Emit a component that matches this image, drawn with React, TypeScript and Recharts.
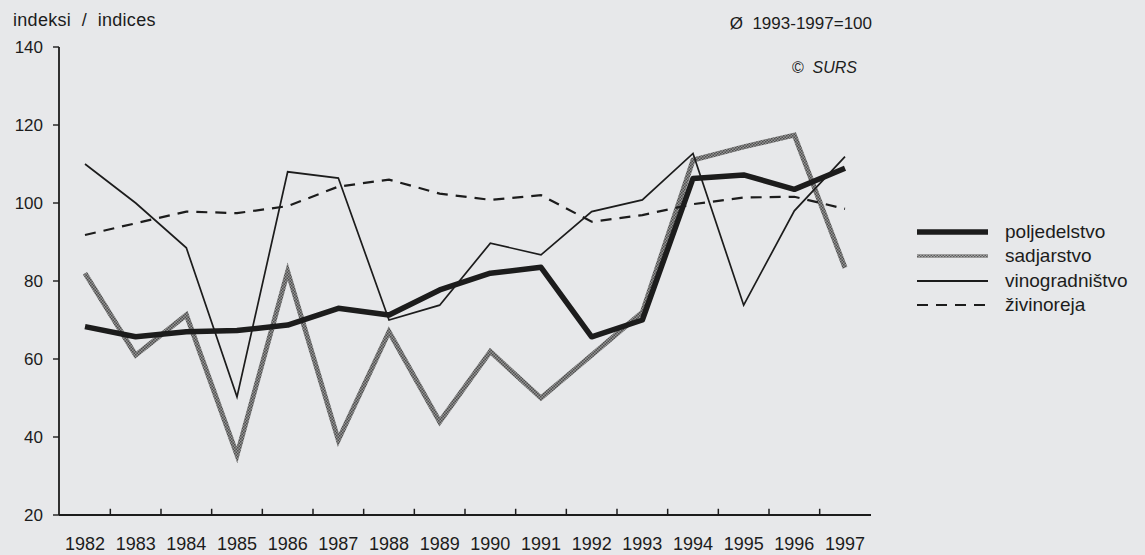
import React from 'react';
import { LineChart, Line, XAxis, YAxis, ReferenceLine } from 'recharts';

const years = [1982, 1983, 1984, 1985, 1986, 1987, 1988, 1989, 1990, 1991, 1992, 1993, 1994, 1995, 1996, 1997];
const poljedelstvo = [68.3, 65.7, 67, 67.3, 68.7, 73, 71.3, 77.7, 82, 83.5, 65.7, 70, 106.3, 107.2, 103.5, 108.9];
const sadjarstvo = [82, 61, 71.3, 35.4, 82.4, 39.2, 67, 43.9, 61.9, 50, 61, 72, 111, 114.4, 117.4, 83.4];
const vinogradnistvo = [110, 100, 88.5, 50.3, 108, 106.4, 70, 73.8, 89.7, 86.7, 97.8, 100.8, 112.7, 73.8, 98, 111.9];
const zivinoreja = [91.8, 94.8, 97.8, 97.4, 99.2, 104.2, 106, 102.4, 100.8, 102, 95.2, 96.9, 99.7, 101.4, 101.6, 98.5];
const yTicks = [20, 40, 60, 80, 100, 120, 140];
const seriesNames = ['poljedelstvo', 'sadjarstvo', 'vinogradništvo', 'živinoreja'];

const data = years.map((y, i) => ({
  year: y,
  polj: poljedelstvo[i],
  sadj: sadjarstvo[i],
  vino: vinogradnistvo[i],
  zivi: zivinoreja[i],
}));
const midTicks = years.slice(0, -1).map((y) => y + 0.5);
const xDomain = [years[0] - 0.513, years[years.length - 1] + 0.513];
const yMin = yTicks[0];
const yMax = yTicks[yTicks.length - 1];

const INK = '#1c1c1c';
const FONT = '"Liberation Sans", Arial, sans-serif';

function LegendSample({ kind }: { kind: number }) {
  const common = { x1: 0, x2: 71, y1: 6, y2: 6 } as any;
  return (
    <svg width={72} height={12} style={{ display: 'block' }}>
      {kind === 0 && <line {...common} stroke={INK} strokeWidth={5.5} />}
      {kind === 1 && <line {...common} stroke="url(#hatchLeg)" strokeWidth={3.5} />}
      {kind === 2 && <line {...common} stroke={INK} strokeWidth={1.8} />}
      {kind === 3 && <line {...common} stroke={INK} strokeWidth={2.2} strokeDasharray="11 8" />}
    </svg>
  );
}

export default function App() {
  return (
    <div
      style={{
        position: 'absolute',
        left: 0,
        top: 0,
        width: 1145,
        height: 555,
        background: '#e7e8ea',
        fontFamily: FONT,
        color: INK,
        overflow: 'hidden',
      }}
    >
      <svg width={0} height={0} style={{ position: 'absolute' }}>
        <defs>
          <pattern id="hatch" width="3" height="3" patternUnits="userSpaceOnUse">
            <rect width="3" height="3" fill="#959595" />
            <rect width="1.5" height="1.5" fill="#4e4e4e" />
            <rect x="1.5" y="1.5" width="1.5" height="1.5" fill="#4e4e4e" />
          </pattern>
          <pattern id="hatchLeg" width="3" height="3" patternUnits="userSpaceOnUse">
            <rect width="3" height="3" fill="#a4a4a4" />
            <rect width="1.5" height="1.5" fill="#5e5e5e" />
            <rect x="1.5" y="1.5" width="1.5" height="1.5" fill="#5e5e5e" />
          </pattern>
        </defs>
      </svg>

      <div style={{ position: 'absolute', left: 13, top: 10, fontSize: 18, whiteSpace: 'pre', letterSpacing: 0.3 }}>
        {'indeksi  /  indices'}
      </div>
      <div style={{ position: 'absolute', right: 1145 - 872, top: 14, fontSize: 17, whiteSpace: 'pre' }}>
        {'Ø  1993-1997=100'}
      </div>
      <div style={{ position: 'absolute', right: 1145 - 857, top: 59, fontSize: 16, fontStyle: 'italic', whiteSpace: 'pre' }}>
        {'©  SURS'}
      </div>

      <LineChart
        width={1145}
        height={555}
        data={data}
        margin={{ top: 47, right: 274, bottom: 10, left: 8 }}
        style={{ position: 'absolute', left: 0, top: 0 }}
      >
        <XAxis
          xAxisId="top"
          orientation="top"
          type="number"
          dataKey="year"
          domain={xDomain}
          height={0}
          tick={false}
          tickLine={false}
          axisLine={{ stroke: INK, strokeWidth: 1.6 }}
        />
        <YAxis
          yAxisId="right"
          orientation="right"
          domain={[yMin, yMax]}
          width={0}
          tick={false}
          tickLine={false}
          axisLine={{ stroke: INK, strokeWidth: 1.6 }}
        />
        <XAxis
          type="number"
          dataKey="year"
          domain={xDomain}
          ticks={years}
          interval={0}
          height={30}
          tickSize={0}
          tickLine={false}
          tickMargin={22}
          axisLine={{ stroke: INK, strokeWidth: 1.8 }}
          tick={{ fill: INK, fontSize: 18, fontFamily: FONT }}
        />
        <YAxis
          domain={[yMin, yMax]}
          ticks={yTicks}
          interval={0}
          width={51}
          tickSize={6}
          tickMargin={10}
          axisLine={{ stroke: INK, strokeWidth: 1.8 }}
          tickLine={{ stroke: INK, strokeWidth: 1.4 }}
          tick={{ fill: INK, fontSize: 17, fontFamily: FONT }}
        />
        {midTicks.map((t) => (
          <ReferenceLine
            key={t}
            segment={[
              { x: t, y: yMin },
              { x: t, y: yMin + 1.6 },
            ]}
            stroke={INK}
            strokeWidth={1.5}
            ifOverflow="visible"
          />
        ))}
        <Line
          dataKey="sadj"
          name={seriesNames[1]}
          stroke="url(#hatch)"
          strokeWidth={5}
          dot={false}
          strokeLinejoin="miter"
          isAnimationActive={false}
        />
        <Line
          dataKey="zivi"
          name={seriesNames[3]}
          stroke={INK}
          strokeWidth={2.2}
          strokeDasharray="11 8"
          dot={false}
          isAnimationActive={false}
        />
        <Line
          dataKey="vino"
          name={seriesNames[2]}
          stroke={INK}
          strokeWidth={1.7}
          dot={false}
          isAnimationActive={false}
        />
        <Line
          dataKey="polj"
          name={seriesNames[0]}
          stroke={INK}
          strokeWidth={5.5}
          strokeLinejoin="round"
          dot={false}
          isAnimationActive={false}
        />
      </LineChart>

      <div style={{ position: 'absolute', left: 917, top: 220 }}>
        {seriesNames.map((n, i) => (
          <div key={n} style={{ display: 'flex', alignItems: 'center', height: 24.3 }}>
            <LegendSample kind={i} />
            <span style={{ marginLeft: 16, fontSize: 19, lineHeight: '24px' }}>{n}</span>
          </div>
        ))}
      </div>
    </div>
  );
}
